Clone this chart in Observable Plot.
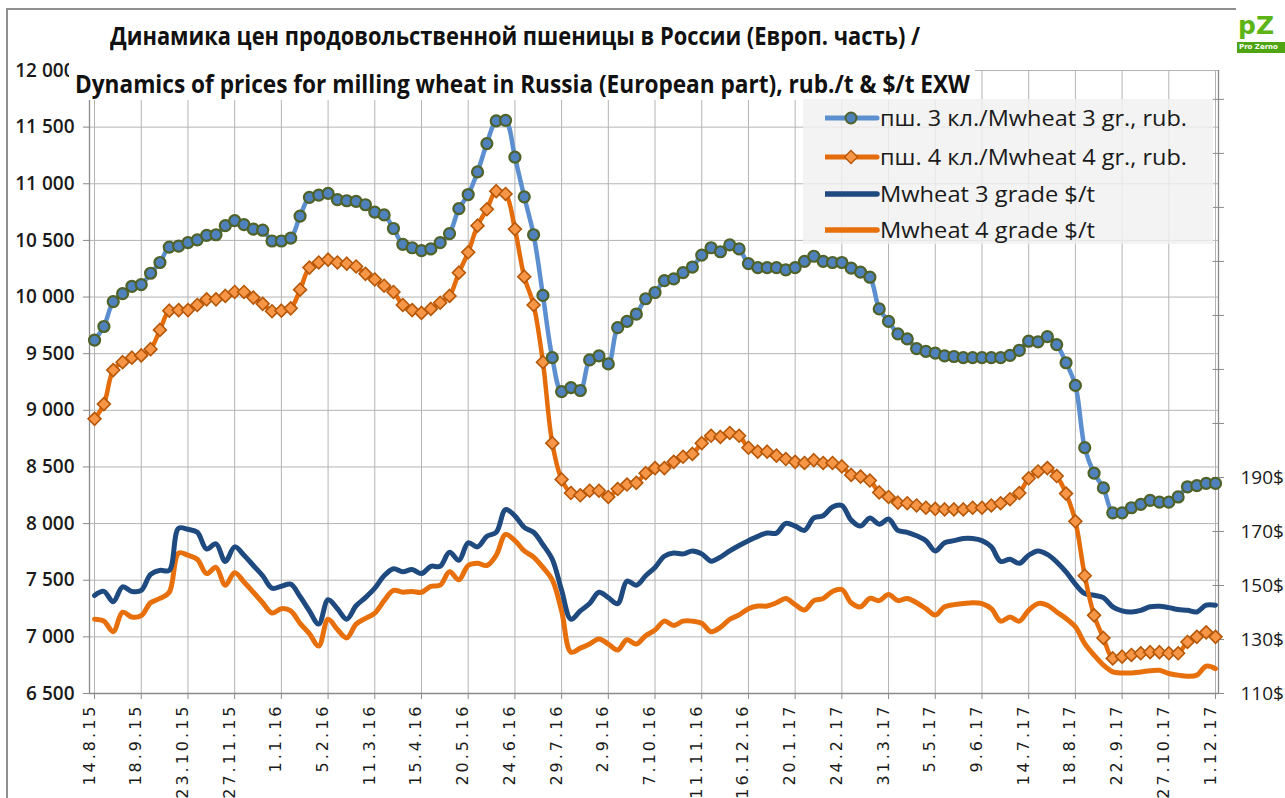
<!DOCTYPE html>
<html><head><meta charset="utf-8">
<script src="https://cdn.jsdelivr.net/npm/d3@7"></script>
<script src="https://cdn.jsdelivr.net/npm/@observablehq/plot@0.6"></script>
<style>
body{margin:0;background:#fff;}
#wrap{position:relative;width:1285px;height:798px;overflow:hidden;background:#fff;font-family:"Open Sans",sans-serif;}
#wrap svg{position:absolute;left:0;top:0;}
#frameTop{position:absolute;left:6px;top:8px;width:1230px;height:0;border-top:2px solid #8f8f8f;}
#frameLeft{position:absolute;left:6px;top:8px;width:0;height:800px;border-left:2px solid #8f8f8f;}
.fit{position:absolute;white-space:nowrap;transform-origin:0 0;display:inline-block;}
.title{font-weight:700;color:#111;font-size:25px;line-height:30px;}
#t2box{position:absolute;left:69px;top:62px;width:906px;height:38px;background:#fff;}
#legend{position:absolute;left:803px;top:99px;width:410px;height:145px;background:rgba(240,240,240,0.82);}
.lg{position:absolute;left:22px;width:400px;height:30px;}
.lg svg{position:absolute;left:0;top:0;}
.lg .fit{left:55px;top:0;font-size:21px;line-height:30px;color:#1a1a1a;}
#logo{position:absolute;left:1237px;top:11px;width:48px;height:44px;overflow:hidden;}
#logo .pz{position:absolute;left:1px;top:0;font:900 25px/30px "DejaVu Sans",sans-serif;color:#5cb515;}
#logo .pzt{position:absolute;left:0;top:31px;width:48px;height:11px;background:#4ea411;color:#fff;font:700 7px/11px "DejaVu Sans",sans-serif;text-indent:2px;}
svg text.xl{letter-spacing:3px;}
</style></head>
<body><div id="wrap">
<div id="frameTop"></div><div id="frameLeft"></div>
</div>
<script>
// ---- data ----
const xLabels = ["14.8.15","18.9.15","23.10.15","27.11.15","1.1.16","5.2.16","11.3.16","15.4.16","20.5.16","24.6.16","29.7.16","2.9.16","7.10.16","11.11.16","16.12.16","20.1.17","24.2.17","31.3.17","5.5.17","9.6.17","14.7.17","18.8.17","22.9.17","27.10.17","1.12.17"];
const yTicks = [6500,7000,7500,8000,8500,9000,9500,10000,10500,11000,11500,12000];
const rightTicks = [110,130,150,170,190,210,230,250,270,290,310,330];
const rightLabels = [110,130,150,170,190];
const seriesNames = ["пш. 3 кл./Mwheat 3 gr., rub.","пш. 4 кл./Mwheat 4 gr., rub.","Mwheat 3 grade $/t","Mwheat 4 grade $/t"];
const wheat3Rub = [
9620,9740,9960,10030,10095,10110,10210,10305,10440,10450,
10480,10505,10545,10550,10630,10675,10640,10600,10590,10495,
10495,10520,10715,10880,10900,10915,10860,10850,10845,10815,
10750,10725,10605,10465,10435,10410,10425,10480,10560,10780,
10905,11105,11355,11555,11560,11235,10885,10550,10015,9465,
9165,9200,9175,9445,9480,9410,9730,9785,9850,9985,
10040,10145,10160,10215,10265,10370,10435,10400,10460,10425,
10295,10260,10260,10260,10240,10260,10315,10360,10315,10305,
10305,10255,10220,10175,9895,9785,9675,9630,9545,9520,
9505,9480,9475,9465,9465,9465,9465,9465,9485,9530,
9610,9605,9650,9580,9420,9220,8670,8445,8315,8095,
8095,8140,8170,8205,8190,8190,8235,8325,8335,8355,8355];
const wheat4Rub = [
8925,9055,9355,9425,9465,9485,9540,9710,9880,9885,
9885,9930,9980,9980,10010,10045,10045,9995,9940,9875,
9880,9900,10065,10260,10305,10330,10305,10295,10270,10205,
10155,10100,10045,9930,9885,9860,9895,9950,10010,10215,
10395,10630,10775,10935,10910,10600,10180,9930,9425,8710,
8390,8270,8250,8290,8290,8235,8305,8345,8360,8445,
8490,8490,8545,8590,8615,8710,8775,8765,8800,8775,
8670,8635,8635,8600,8570,8545,8535,8560,8535,8535,
8505,8430,8415,8380,8275,8235,8185,8180,8160,8140,
8130,8125,8125,8125,8140,8140,8160,8180,8215,8270,
8400,8460,8490,8420,8265,8020,7540,7190,6990,6810,
6825,6840,6855,6865,6865,6855,6855,6955,7000,7040,7000];
const wheat3Usd = [
146.3,147.8,144.0,149.5,147.8,148.2,154.1,155.6,155.6,171.2,
170.8,169.7,163.5,165.4,158.9,164.3,161.2,157.4,153.6,149.0,
149.7,150.5,145.9,140.6,135.7,144.7,141.4,137.5,142.5,145.5,
149.0,153.6,156.2,155.1,155.9,154.4,157.1,157.1,162.3,159.3,
165.8,164.3,168.2,169.7,178.1,175.8,171.5,169.7,165.1,159.7,
148.2,137.5,140.6,143.3,147.5,145.5,143.3,151.6,150.1,153.6,
156.7,160.8,162.0,161.7,162.8,161.7,159.0,160.5,162.8,164.8,
166.6,168.2,169.4,169.4,173.0,172.0,170.4,175.0,175.8,179.1,
179.6,174.2,172.0,175.0,172.7,174.6,170.4,169.7,168.4,166.6,
162.8,165.8,166.6,167.4,167.4,166.6,164.3,158.9,159.7,158.2,
161.2,162.8,161.5,158.7,155.0,150.5,147.0,146.4,145.5,142.1,
140.6,140.2,140.8,142.1,142.3,141.8,141.1,140.8,140.2,142.7,142.7];
const wheat4Usd = [
137.5,136.8,132.9,140.1,138.3,138.8,143.6,145.2,147.5,162.0,
161.2,159.7,154.4,156.7,150.1,154.7,151.3,147.5,143.6,139.8,
141.4,140.6,136.0,132.2,127.6,137.5,133.7,130.6,135.7,137.8,
139.8,144.4,148.2,147.5,147.8,147.5,149.7,150.1,155.1,152.1,
157.4,158.2,157.4,161.2,168.9,166.6,162.8,160.5,156.7,152.1,
140.6,125.3,126.8,128.3,130.2,128.3,126.1,129.9,128.3,131.4,
133.5,136.8,135.2,136.8,136.8,136.0,132.9,134.5,137.5,139.1,
141.4,142.4,142.4,143.6,145.2,142.9,140.9,144.4,145.2,147.8,
148.5,143.6,142.1,145.2,144.4,146.7,144.4,145.2,143.6,141.4,
139.1,142.1,142.9,143.3,143.6,143.3,141.4,136.8,138.3,136.8,
140.8,143.3,142.7,140.2,137.8,134.7,128.5,124.2,120.5,118.0,
117.6,117.6,118.0,118.4,118.6,117.4,116.8,116.4,116.8,120.1,119.2];

// ---- styling / layout ----
const C = {b3:"#5b8fd0", b3fill:"#4f81bd", b3edge:"#4f6228", o4:"#e46c0a", o4fill:"#f79646", o4edge:"#b65708", u3:"#1f4a80", u4:"#e8700c", grid:"#b4b4b4", axis:"#8a8a8a"};
const X0 = -0.54, X1 = 120.32;               // x domain (weeks index)
const usdAxis = {usd:[110,330], rub:[6500,11745]}; // right axis mapped onto left scale
const usdToY = v => usdAxis.rub[0] + (v - usdAxis.usd[0]) * (usdAxis.rub[1]-usdAxis.rub[0])/(usdAxis.usd[1]-usdAxis.usd[0]);
const rows = wheat3Rub.map((v,i)=>({i, b3:v, o4:wheat4Rub[i], u3:usdToY(wheat3Usd[i]), u4:usdToY(wheat4Usd[i])}));
const tickIdx = xLabels.map((d,k)=>k*5);
const fmt = d => d3.format(",")(d).replace(/,/g," ");

const chart = Plot.plot({
  width:1285, height:798, marginLeft:89, marginRight:67, marginTop:70, marginBottom:105,
  x:{type:"linear", domain:[X0,X1], axis:null},
  y:{domain:[6500,12000], axis:null},
  style:{background:"transparent", fontFamily:"'Open Sans', sans-serif", overflow:"visible"},
  marks:[
    Plot.ruleY(yTicks.slice(1), {stroke:C.grid, strokeWidth:1}),
    Plot.ruleX(tickIdx, {stroke:C.grid, strokeWidth:1}),
    Plot.ruleX([X0], {stroke:C.axis, strokeWidth:1.3}),
    Plot.ruleX([X1], {stroke:C.axis, strokeWidth:1.3}),
    Plot.ruleY([6500], {stroke:C.axis, strokeWidth:1.5}),
    Plot.ruleY(yTicks, {x1:X0-0.65, x2:X0, stroke:C.axis}),
    Plot.ruleY(rightTicks, {y:usdToY, x1:X1-0.6, x2:X1+0.65, stroke:C.axis}),
    Plot.ruleX(tickIdx, {y1:6500, y2:6447, stroke:C.axis}),
    Plot.line(rows, {x:"i", y:"u4", stroke:C.u4, strokeWidth:5, curve:"catmull-rom"}),
    Plot.line(rows, {x:"i", y:"u3", stroke:C.u3, strokeWidth:5, curve:"catmull-rom"}),
    Plot.line(rows, {x:"i", y:"o4", stroke:C.o4, strokeWidth:4.5, curve:"catmull-rom"}),
    Plot.line(rows, {x:"i", y:"b3", stroke:C.b3, strokeWidth:4.5, curve:"catmull-rom"}),
    Plot.dot(rows, {x:"i", y:"o4", symbol:"diamond2", r:5.8, fill:C.o4fill, stroke:C.o4edge, strokeWidth:1.6, ariaLabel:"mk4"}),
    Plot.dot(rows, {x:"i", y:"b3", r:5.5, fill:C.b3fill, stroke:C.b3edge, strokeWidth:2.2, ariaLabel:"mk3"}),
    Plot.text(yTicks, {y:d=>d, text:fmt, frameAnchor:"left", dx:-15, textAnchor:"end", fontSize:19, fontWeight:600, fill:"#1a1a1a"}),
    Plot.text(rightLabels, {y:usdToY, text:d=>d+"$", frameAnchor:"right", dx:22, textAnchor:"start", fontSize:19, fill:"#1a1a1a"}),
    Plot.text(xLabels, {x:(d,k)=>tickIdx[k], text:d=>d, frameAnchor:"bottom", dy:10, rotate:-90, textAnchor:"end", fontSize:16, fontFamily:"DejaVu Sans", fill:"#1a1a1a"})
  ]
});
const wrap = document.getElementById("wrap");
wrap.appendChild(chart);
const sh = "drop-shadow(1.5px 2.5px 1.5px rgba(0,0,0,0.35))";
chart.querySelectorAll('g[aria-label="mk3"], g[aria-label="mk4"]').forEach(g=>g.style.filter=sh);
const xlSet = new Set(xLabels);
chart.querySelectorAll("text").forEach(t=>{ if (xlSet.has(t.textContent)) { t.classList.add("xl"); t.setAttribute("letter-spacing","3"); } });

// titles
const t1 = document.createElement("div"); t1.className="fit title"; t1.style.left="110px"; t1.style.top="20px"; t1.dataset.w=810;
t1.textContent="Динамика цен продовольственной пшеницы в России (Европ. часть) /";
const box = document.createElement("div"); box.id="t2box";
const t2 = document.createElement("div"); t2.className="fit title"; t2.style.left="75px"; t2.style.top="68px"; t2.dataset.w=895;
t2.textContent="Dynamics of prices for milling wheat in Russia (European part), rub./t & $/t EXW";
wrap.append(t1, box, t2);

// legend
const lg = document.createElement("div"); lg.id="legend"; wrap.appendChild(lg);
const lgTops=[4,43,80,116];
const samples = [
 `<line x1="0" y1="15" x2="52" y2="15" stroke="${C.b3}" stroke-width="5" stroke-linecap="round"/><circle cx="26" cy="15" r="5.5" fill="${C.b3fill}" stroke="${C.b3edge}" stroke-width="2"/>`,
 `<line x1="0" y1="15" x2="52" y2="15" stroke="${C.o4}" stroke-width="5" stroke-linecap="round"/><path d="M26 8.5L32.5 15L26 21.5L19.5 15Z" fill="${C.o4fill}" stroke="${C.o4edge}" stroke-width="1.4"/>`,
 `<line x1="0" y1="15" x2="52" y2="15" stroke="${C.u3}" stroke-width="5.5" stroke-linecap="round"/>`,
 `<line x1="0" y1="15" x2="52" y2="15" stroke="${C.u4}" stroke-width="5.5" stroke-linecap="round"/>`];
const lgW=[307,307,215,215];
seriesNames.forEach((name,k)=>{
  const e=document.createElement("div"); e.className="lg"; e.style.top=lgTops[k]+"px";
  e.innerHTML=`<svg width="56" height="30">${samples[k]}</svg><div class="fit" data-w="${lgW[k]}"></div>`;
  e.querySelector(".fit").textContent=name;
  lg.appendChild(e);
});
// logo
const logo=document.createElement("div"); logo.id="logo"; logo.innerHTML='<div class="pz">pZ</div><div class="pzt">Pro Zerno</div>'; wrap.appendChild(logo);

document.querySelectorAll(".fit").forEach(el=>{
  const w=el.getBoundingClientRect().width; const t=+el.dataset.w;
  if (w>0 && t>0) el.style.transform=`scaleX(${t/w})`;
});
</script></body></html>
